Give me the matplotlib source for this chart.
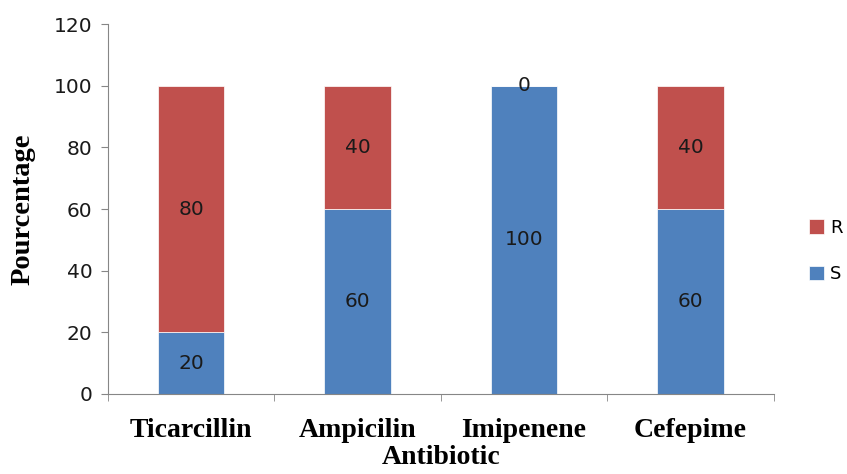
import matplotlib.pyplot as plt
import numpy as np

# data
antibiotics = ["Ticarcillin", "Ampicilin", "Imipenene", "Cefepime"]
s_vals = [20, 60, 100, 60]
r_vals = [80, 40, 0, 40]

blue = "#4F81BD"
red = "#C0504D"

fig = plt.figure(figsize=(8.47, 4.74), dpi=100)
ax = fig.add_axes([0.1275, 0.169, 0.786, 0.78])

x = np.arange(len(antibiotics))
bs = ax.bar(x, s_vals, width=0.4, color=blue, label="S", edgecolor="white", linewidth=0.5)
br = ax.bar(x, r_vals, width=0.4, bottom=s_vals, color=red, label="R", edgecolor="white", linewidth=0.5)

for rects, vals, bottoms in [(bs, s_vals, [0] * 4), (br, r_vals, s_vals)]:
    for rect, v, b in zip(rects, vals, bottoms):
        ax.text(rect.get_x() + rect.get_width() / 2, b + v / 2, str(v),
                ha="center", va="center", fontsize=14.5, color="#1a1a1a")

ax.set_xlim(-0.5, 3.5)
ax.set_ylim(0, 120)
ax.set_yticks(range(0, 121, 20))
ax.set_xticks(x)
ax.set_xticklabels(antibiotics, fontfamily="Liberation Serif", fontweight="bold", fontsize=20)
ax.set_xticks(np.arange(-0.5, 4, 1), minor=True)
ax.tick_params(axis="x", which="major", length=0, pad=17)
ax.tick_params(axis="x", which="minor", length=5, color="#868686")
ax.tick_params(axis="y", length=5, color="#868686", labelsize=14.5, labelcolor="#1a1a1a", pad=6)

for side in ["top", "right"]:
    ax.spines[side].set_visible(False)
for side in ["left", "bottom"]:
    ax.spines[side].set_color("#868686")

ax.set_ylabel("Pourcentage", fontfamily="Liberation Serif", fontweight="bold", fontsize=20.5, labelpad=13)
ax.set_xlabel("Antibiotic", fontfamily="Liberation Serif", fontweight="bold", fontsize=20, labelpad=2)

handles, labels = ax.get_legend_handles_labels()
fig.legend(handles[::-1], labels[::-1], loc="center left", bbox_to_anchor=(800 / 847, 1 - 251 / 474),
           frameon=False, fontsize=13, handlelength=0.85, handleheight=0.85, borderpad=0,
           labelspacing=1.6, handletextpad=0.3)

fig.savefig("out.png", dpi=100)
